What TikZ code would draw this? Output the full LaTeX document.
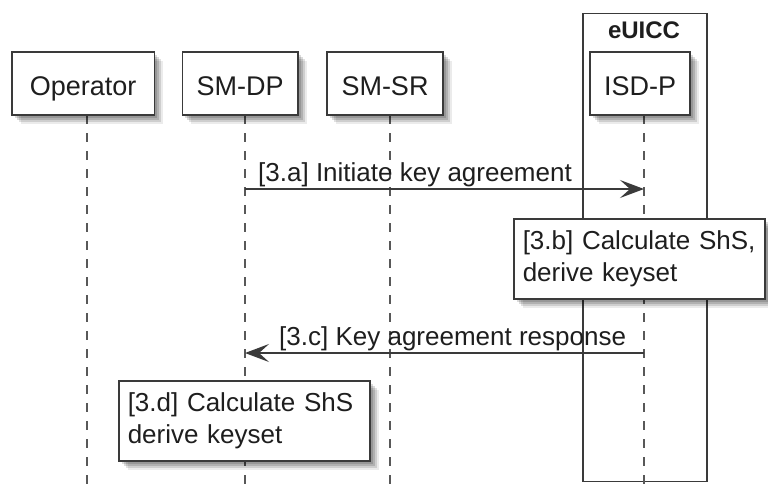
\documentclass[tikz,border=0pt]{standalone}
\usepackage{fontspec}
\setmainfont{Liberation Sans}
\usetikzlibrary{arrows.meta,shadows}
\definecolor{ln}{HTML}{3A3A3A}
\definecolor{tx}{HTML}{1E1E1E}
\tikzset{
  softshadow/.style={
    general shadow={shadow xshift=9pt,shadow yshift=-9pt,fill=black,opacity=.08},
    general shadow={shadow xshift=7pt,shadow yshift=-7pt,fill=black,opacity=.12},
    general shadow={shadow xshift=5pt,shadow yshift=-5pt,fill=black,opacity=.14},
    general shadow={shadow xshift=3pt,shadow yshift=-3pt,fill=black,opacity=.14}},
  part/.style={draw=ln, line width=1.8pt, fill=white, minimum height=63pt,
    inner sep=0pt, text height=28pt, text depth=5pt, text=tx,
    font=\fontsize{27}{32}\selectfont, softshadow},
  life/.style={draw=ln!85, line width=1.3pt, dash pattern=on 9pt off 9pt},
  msg/.style={draw=ln, line width=1.6pt, -{Stealth[length=24pt,width=18pt,inset=10pt]}},
  msglabel/.style={text=tx, font=\fontsize{26}{32}\selectfont, inner sep=0pt},
  notebox/.style={draw=ln, line width=1.5pt, fill=white, align=left, text width=233pt,
    inner xsep=9pt, inner ysep=0pt, minimum height=80pt, text=tx,
    font=\fontsize{26}{32}\selectfont, softshadow},
  groupbox/.style={draw=ln, line width=1.5pt, inner sep=0pt}
}
\begin{document}
\begin{tikzpicture}[x=1pt,y=-1pt]
\useasboundingbox[fill=white] (0,0) rectangle (768,491);

% eUICC group box
\node[groupbox, minimum width=124pt, minimum height=468pt, anchor=north west] (eu) at (582,12.7) {};
\node[font=\bfseries\fontsize{24}{28}\selectfont, text=tx, inner sep=0pt] (eulabel) at (644,30) {eUICC};

% lifelines
\coordinate (opT) at (87,115);  \coordinate (opB) at (87,491);
\coordinate (dpT) at (245,115); \coordinate (dpB) at (245,491);
\coordinate (srT) at (390,115); \coordinate (srB) at (390,491);
\coordinate (isT) at (644,115); \coordinate (isB) at (644,491);
\draw[life] (opT) -- (opB);
\draw[life] (dpT) -- (dpB);
\draw[life] (srT) -- (srB);
\draw[life] (isT) -- (isB);

% participants
\node[part, minimum width=142.6pt] (op) at (83.1,83.5) {Operator};
\node[part, minimum width=115.6pt] (dp) at (240.2,83.5) {SM-DP};
\node[part, minimum width=116pt] (sr) at (385,83.5) {SM-SR};
\node[part, minimum width=100pt] (is) at (640,83.5) {ISD-P};

% message 3.a
\coordinate (a1) at (245,189); \coordinate (a2) at (644,189);
\draw[msg] (a1) -- (a2);
\node[msglabel, anchor=base west] (la) at (258,181) {[3.a] Initiate key agreement};

% note 3.b
\node[notebox, anchor=north west] (n3b) at (513,218) {[3.b] Calculate ShS,\\derive keyset};

% message 3.c
\coordinate (c1) at (644,353); \coordinate (c2) at (245,353);
\draw[msg] (c1) -- (c2);
\node[msglabel, anchor=base west] (lc) at (279,345) {[3.c] Key agreement response};

% note 3.d
\node[notebox, anchor=north west] (n3d) at (118,380) {[3.d] Calculate ShS\\derive keyset};
\end{tikzpicture}
\end{document}
